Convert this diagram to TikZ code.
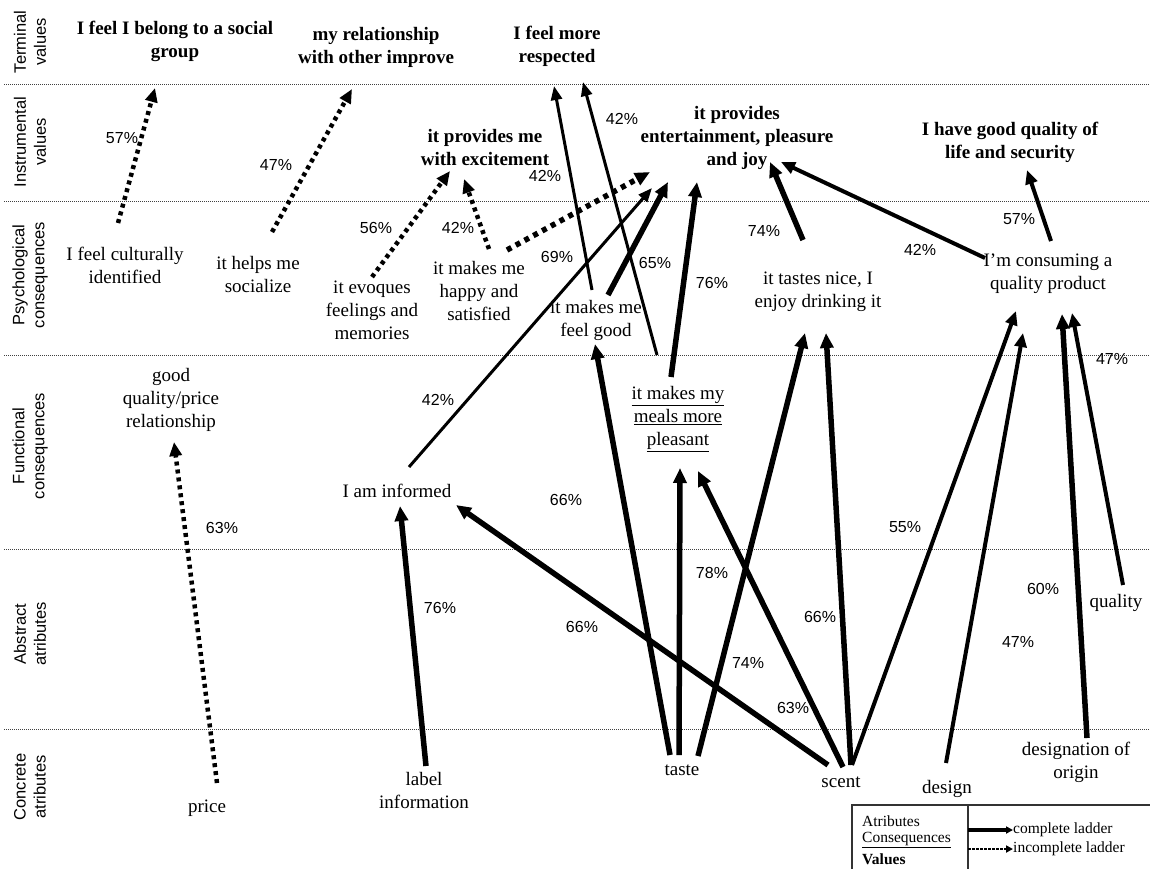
\documentclass[tikz,border=0pt]{standalone}
\usepackage{fontspec}
\setmainfont{Liberation Serif}
\setsansfont{Liberation Sans}
\usetikzlibrary{arrows.meta,calc}
\tikzset{
 txt/.style={font=\fontsize{19}{23}\selectfont, align=center, inner sep=0pt},
 btxt/.style={font=\fontsize{19}{23}\selectfont\bfseries, align=center, inner sep=0pt},
 pct/.style={font=\sffamily\fontsize{16}{19}\selectfont, inner sep=0pt},
 rowlbl/.style={font=\sffamily\fontsize{16.5}{20}\selectfont, align=center, rotate=90, inner sep=0pt},
 sepline/.style={line width=0.8pt, dash pattern=on 1pt off 1pt, black!75},
 wline/.style={line width=3pt, -{Triangle[length=14pt,width=11pt]}},
 mline/.style={line width=4pt, -{Triangle[length=14pt,width=12pt]}},
 bline/.style={line width=5.5pt, -{Triangle[length=15pt,width=13pt]}},
 dline/.style={line width=4.5pt, dash pattern=on 4pt off 4pt, -{Triangle[length=14pt,width=12pt]}},
 dlineb/.style={line width=5.5pt, dash pattern=on 5pt off 5pt, -{Triangle[length=15pt,width=13pt]}},
 legtxt/.style={font=\fontsize{15.5}{18}\selectfont, inner sep=0pt, anchor=west},
}
\begin{document}
\begin{tikzpicture}[x=1pt,y=-1pt]
\useasboundingbox (0,0) rectangle (1150,868);
\fill[white] (0,0) rectangle (1150,868);
% separators
\foreach \yy in {84,201,355,549,729} \draw[sepline] (4,\yy) -- (1150,\yy);
% row labels
\node[rowlbl] (r1) at (30,42) {Terminal\\values};
\node[rowlbl] (r2) at (30,142) {Instrumental\\values};
\node[rowlbl] (r3) at (30,275) {Psychological\\consequences};
\node[rowlbl] (r4) at (30,446) {Functional\\consequences};
\node[rowlbl] (r5) at (30,634) {Abstract\\atributes};
\node[rowlbl] (r6) at (30,787) {Concrete\\atributes};
% terminal values
\node[btxt] (T1) at (175,41) {I feel I belong to a social\\group};
\node[btxt] (T2) at (376,47) {my relationship\\with other improve};
\node[btxt] (T3) at (557,46) {I feel more\\respected};
% instrumental values
\node[btxt] (I1) at (485,147) {it provides me\\with excitement};
\node[btxt] (I2) at (737,138) {it provides\\entertainment, pleasure\\and joy};
\node[btxt] (I3) at (1010,142) {I have good quality of\\life and security};
% psychological consequences
\node[txt] (P1) at (125,265) {I feel culturally\\identified};
\node[txt] (P2) at (258,274) {it helps me\\socialize};
\node[txt] (P3) at (372,310) {it evoques\\feelings and\\memories};
\node[txt] (P4) at (479,291) {it makes me\\happy and\\satisfied};
\node[txt] (P5) at (596,320) {it makes me\\feel good};
\node[txt] (P6) at (818,292) {it tastes nice, I\\enjoy drinking it};
\node[txt] (P7) at (1048,274) {I'm consuming a\\quality product};
% functional consequences
\node[txt] (F1) at (171,400) {good\\quality/price\\relationship};
\node[txt] (F2) at (397,491) {I am informed};
\node[txt] (F3) at (678,419) {\underline{it makes my}\\\underline{meals more}\\\underline{pleasant}};
% abstract attributes
\node[txt] (A1) at (1116,603) {quality};
% concrete attributes
\node[txt] (C1) at (207,808) {price};
\node[txt] (C2) at (424,790) {label\\information};
\node[txt] (C3) at (682,770) {taste};
\node[txt] (C4) at (841,782) {scent};
\node[txt] (C5) at (947,789) {design};
\node[txt] (C6) at (1076,762) {designation of\\origin};
% dotted (incomplete) ladders
\draw[dline] ($(P1)+(-7,-42)$) -- ($(T1)+(-20,47)$);
\draw[dline] ($(P2)+(14,-42)$) -- ($(T2)+(-24,42)$);
\draw[dline] ($(P3)+(0,-33)$) -- ($(I1)+(-35,24)$);
\draw[dline] ($(P4)+(10,-42)$) -- ($(I1)+(-21,32)$);
\draw[dlineb] ($(P4)+(28,-41)$) -- ($(I2)+(-87,34)$);
\draw[dline] ($(C1)+(10,-25)$) -- ($(F1)+(3,42)$);
% complete ladders
\draw[wline] ($(P5)+(-4,-30)$) -- ($(T3)+(-3,40)$);
\draw[wline] ($(F3)+(-21,-64)$) -- ($(T3)+(26,36)$);
\draw[wline] ($(F2)+(12,-24)$) -- ($(I2)+(-85,50)$);
\draw[bline] ($(P5)+(12,-25)$) -- ($(I2)+(-69,44)$);
\draw[bline] ($(F3)+(-7,-42)$) -- ($(I2)+(-40,44)$);
\draw[bline] ($(P6)+(-15,-52)$) -- ($(I2)+(33,24)$);
\draw[mline] ($(P7)+(-63,-16)$) -- ($(I2)+(44,24)$);
\draw[mline] ($(P7)+(3,-33)$) -- ($(I3)+(17,28)$);
\draw[bline] ($(C2)+(2,-24)$) -- ($(F2)+(3,15)$);
\draw[bline] ($(C4)+(-13,-17)$) -- ($(F2)+(59,14)$);
\draw[bline] ($(C3)+(-12,-15)$) -- ($(P5)+(-1,24)$);
\draw[bline] ($(C3)+(-3,-15)$) -- ($(F3)+(2,49)$);
\draw[bline] ($(C3)+(16,-14)$) -- ($(P6)+(-13,41)$);
\draw[bline] ($(C4)+(2,-15)$) -- ($(F3)+(20,52)$);
\draw[bline] ($(C4)+(10,-17)$) -- ($(P6)+(8,41)$);
\draw[mline] ($(C4)+(11,-17)$) -- ($(P7)+(-32,37)$);
\draw[mline] ($(C5)+(-1,-26)$) -- ($(P7)+(-25,59)$);
\draw[bline] ($(C6)+(11,-24)$) -- ($(P7)+(14,40)$);
\draw[mline] ($(A1)+(7,-18)$) -- ($(P7)+(24,39)$);
% percentages
\node[pct] (p1) at (122,138) {57\%};
\node[pct] (p2) at (276,165) {47\%};
\node[pct] (p3) at (376,228) {56\%};
\node[pct] (p4) at (458,228) {42\%};
\node[pct] (p5) at (545,176) {42\%};
\node[pct] (p6) at (622,119) {42\%};
\node[pct] (p7) at (557,257) {69\%};
\node[pct] (p8) at (655,263) {65\%};
\node[pct] (p9) at (712,283) {76\%};
\node[pct] (p10) at (764,231) {74\%};
\node[pct] (p11) at (920,250) {42\%};
\node[pct] (p12) at (1019,219) {57\%};
\node[pct] (p13) at (438,400) {42\%};
\node[pct] (p14) at (222,528) {63\%};
\node[pct] (p15) at (440,608) {76\%};
\node[pct] (p16) at (566,500) {66\%};
\node[pct] (p17) at (582,627) {66\%};
\node[pct] (p18) at (712,573) {78\%};
\node[pct] (p19) at (748,663) {74\%};
\node[pct] (p20) at (793,708) {63\%};
\node[pct] (p21) at (820,617) {66\%};
\node[pct] (p22) at (905,527) {55\%};
\node[pct] (p23) at (1018,642) {47\%};
\node[pct] (p24) at (1043,589) {60\%};
\node[pct] (p25) at (1112,359) {47\%};
% legend
\draw[line width=1.3pt, black!80] (852,872) -- (852,805) -- (1152,805);
\draw[line width=1.3pt, black!80] (968,805) -- (968,872);
\node[legtxt] (L1) at (862,821) {Atributes};
\node[legtxt] (L2) at (862,840) {\underline{Consequences}};
\node[legtxt] (L3) at (862,859) {\bfseries Values};
\coordinate (la1) at (968,830);
\coordinate (la2) at (1013,830);
\coordinate (lb1) at (968,849);
\coordinate (lb2) at (1013,849);
\draw[line width=3.5pt, -{Triangle[length=7pt,width=7pt]}] (la1) -- (la2);
\draw[line width=2.5pt, dash pattern=on 2.5pt off 1.5pt, -{Triangle[length=7pt,width=7pt]}] (lb1) -- (lb2);
\node[legtxt] (L4) at (1013,830) {complete ladder};
\node[legtxt] (L5) at (1013,849) {incomplete ladder};
\end{tikzpicture}
\end{document}
